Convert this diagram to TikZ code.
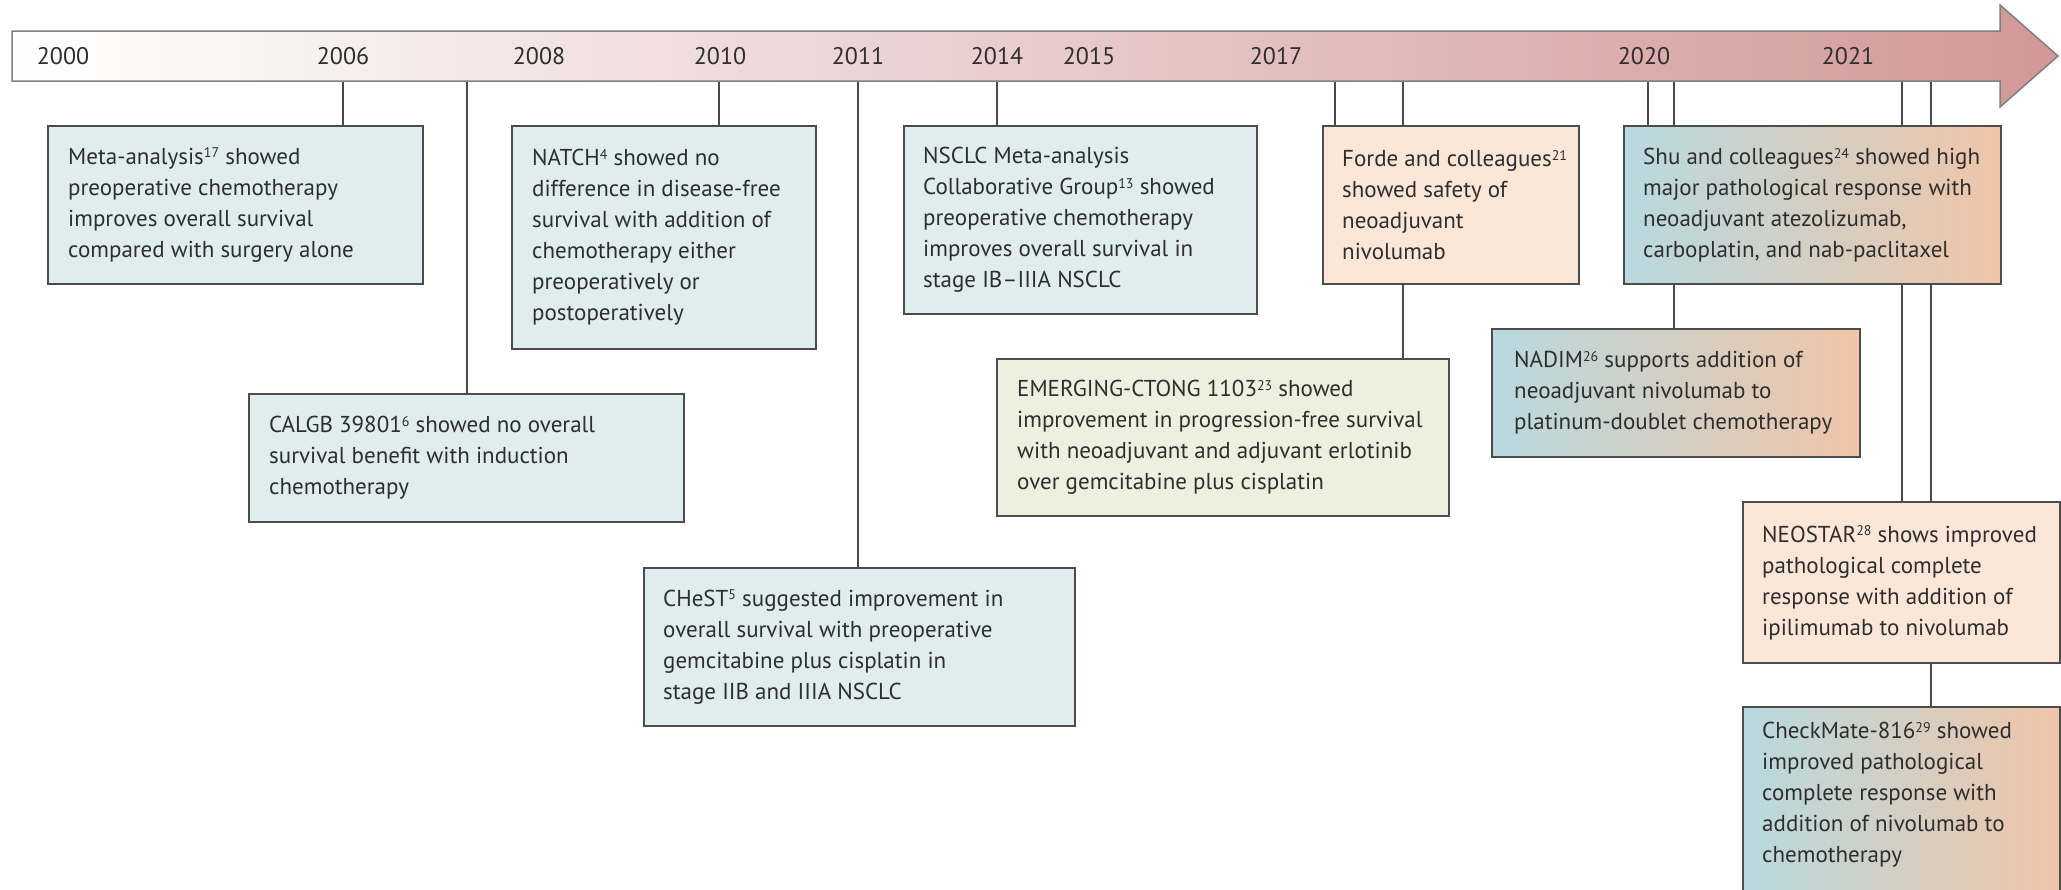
\documentclass[tikz,border=0pt]{standalone}
\usepackage{fontspec}
\setmainfont{PT Sans}
\definecolor{boxline}{HTML}{4C4C4C}
\definecolor{txt}{HTML}{2E2E2E}
\definecolor{pblue}{HTML}{E0EDEF}
\definecolor{peach}{HTML}{FCE6D8}
\definecolor{pgreen}{HTML}{EEF0DF}
\definecolor{gradL}{HTML}{B8D9DF}
\definecolor{gradR}{HTML}{F0C5A8}
\definecolor{barR}{HTML}{D29898}
\definecolor{barline}{HTML}{808080}
\definecolor{conncol}{HTML}{4A4A4A}
\newcommand{\refsup}[1]{\raisebox{6.5pt}{\fontsize{14}{14}\selectfont #1}}
\pgfdeclarelayer{background}
\pgfsetlayers{background,main}
\begin{document}
\begin{tikzpicture}[x=1pt,y=-1pt,
  box/.style={draw=boxline, line width=2.2pt, anchor=north west, inner sep=0pt},
  bluebox/.style={box, fill=pblue},
  peachbox/.style={box, fill=peach},
  greenbox/.style={box, fill=pgreen},
  gradbox/.style={box, left color=gradL, right color=gradR},
  lbl/.style={anchor=west, align=left, inner sep=0pt, text=txt, font=\fontsize{23}{31}\selectfont},
  yr/.style={inner sep=0pt, text=txt, font=\fontsize{24}{28}\selectfont},
  conn/.style={draw=conncol, line width=2pt}]
\useasboundingbox (0,0) rectangle (2061,889);
\begin{pgfonlayer}{background}
\fill[white] (0,0) rectangle (2061,889);
\end{pgfonlayer}
% timeline arrow
\path[draw=barline, line width=1.5pt, left color=white, right color=barR]
  (12,31) -- (2000,31) -- (2000,5) -- (2058,56) -- (2000,107) -- (2000,81) -- (12,81) -- cycle;
% year labels
\node[yr] (y2000) at (63,56) {2000};
\node[yr] (y2006) at (343,56) {2006};
\node[yr] (y2008) at (539,56) {2008};
\node[yr] (y2010) at (720,56) {2010};
\node[yr] (y2011) at (858,56) {2011};
\node[yr] (y2014) at (997,56) {2014};
\node[yr] (y2015) at (1089,56) {2015};
\node[yr] (y2017) at (1276,56) {2017};
\node[yr] (y2020) at (1644,56) {2020};
\node[yr] (y2021) at (1848,56) {2021};
% tick coordinates on the bar
\coordinate (c06) at (343,81);
\coordinate (c08) at (467,81);
\coordinate (c10) at (719,81);
\coordinate (c11) at (858,81);
\coordinate (c14) at (997,81);
\coordinate (c17a) at (1335,81);
\coordinate (c17b) at (1403,81);
\coordinate (c20a) at (1648,81);
\coordinate (c20b) at (1674,81);
\coordinate (c21a) at (1902,81);
\coordinate (c21b) at (1931,81);
% boxes
\path
  (47,125)   node[bluebox,  minimum width=375pt, minimum height=158pt] (meta) {}
  (511,125)  node[bluebox,  minimum width=304pt, minimum height=223pt] (natch) {}
  (903,125)  node[bluebox,  minimum width=353pt, minimum height=188pt] (nsclc) {}
  (1322,125) node[peachbox, minimum width=256pt, minimum height=158pt] (forde) {}
  (1623,125) node[gradbox,  minimum width=377pt, minimum height=158pt] (shu) {}
  (248,393)  node[bluebox,  minimum width=435pt, minimum height=128pt] (calgb) {}
  (996,358)  node[greenbox, minimum width=452pt, minimum height=157pt] (emerg) {}
  (1491,328) node[gradbox,  minimum width=368pt, minimum height=128pt] (nadim) {}
  (643,567)  node[bluebox,  minimum width=431pt, minimum height=158pt] (chest) {}
  (1742,501) node[peachbox, minimum width=317pt, minimum height=161pt] (neostar) {}
  (1742,706) node[gradbox,  minimum width=317pt, minimum height=194pt] (checkmate) {};
% box texts
\node[lbl] (metaT) at ([xshift=21pt]meta.west) {Meta-analysis\refsup{17} showed\\preoperative chemotherapy\\improves overall survival\\compared with surgery alone};
\node[lbl] (natchT) at ([xshift=21pt]natch.west) {NATCH\refsup{4} showed no\\difference in disease-free\\survival with addition of\\chemotherapy either\\preoperatively or\\postoperatively};
\node[lbl] (nsclcT) at ([xshift=20pt]nsclc.west) {NSCLC Meta-analysis\\Collaborative Group\refsup{13} showed\\preoperative chemotherapy\\improves overall survival in\\stage IB–IIIA NSCLC};
\node[lbl] (fordeT) at ([xshift=20pt]forde.west) {Forde and colleagues\refsup{21}\\showed safety of\\neoadjuvant\\nivolumab};
\node[lbl] (shuT) at ([xshift=20pt]shu.west) {Shu and colleagues\refsup{24} showed high\\major pathological response with\\neoadjuvant atezolizumab,\\carboplatin, and nab-paclitaxel};
\node[lbl] (calgbT) at ([xshift=21pt]calgb.west) {CALGB 39801\refsup{6} showed no overall\\survival benefit with induction\\chemotherapy};
\node[lbl] (emergT) at ([xshift=21pt]emerg.west) {EMERGING-CTONG 1103\refsup{23} showed\\improvement in progression-free survival\\with neoadjuvant and adjuvant erlotinib\\over gemcitabine plus cisplatin};
\node[lbl] (nadimT) at ([xshift=23pt]nadim.west) {NADIM\refsup{26} supports addition of\\neoadjuvant nivolumab to\\platinum-doublet chemotherapy};
\node[lbl] (chestT) at ([xshift=20pt]chest.west) {CHeST\refsup{5} suggested improvement in\\overall survival with preoperative\\gemcitabine plus cisplatin in\\stage IIB and IIIA NSCLC};
\node[lbl] (neostarT) at ([xshift=20pt]neostar.west) {NEOSTAR\refsup{28} shows improved\\pathological complete\\response with addition of\\ipilimumab to nivolumab};
\node[lbl, anchor=north west] (checkmateT) at ([xshift=20pt,yshift=-16pt]checkmate.north west) {CheckMate-816\refsup{29} showed\\improved pathological\\complete response with\\addition of nivolumab to\\chemotherapy};
% connectors, behind the boxes
\begin{pgfonlayer}{background}
\draw[conn] (c06) -- (c06 |- meta.north);
\draw[conn] (c08) -- (c08 |- calgb.north);
\draw[conn] (c10) -- (c10 |- natch.north);
\draw[conn] (c11) -- (c11 |- chest.north);
\draw[conn] (c14) -- (c14 |- nsclc.north);
\draw[conn] (c17a) -- (c17a |- forde.north);
\draw[conn] (c17b) -- (c17b |- emerg.north);
\draw[conn] (c20a) -- (c20a |- shu.north);
\draw[conn] (c20b) -- (c20b |- nadim.north);
\draw[conn] (c21a) -- (c21a |- neostar.north);
\draw[conn] (c21b) -- (c21b |- checkmate.north);
\end{pgfonlayer}
\end{tikzpicture}
\end{document}
